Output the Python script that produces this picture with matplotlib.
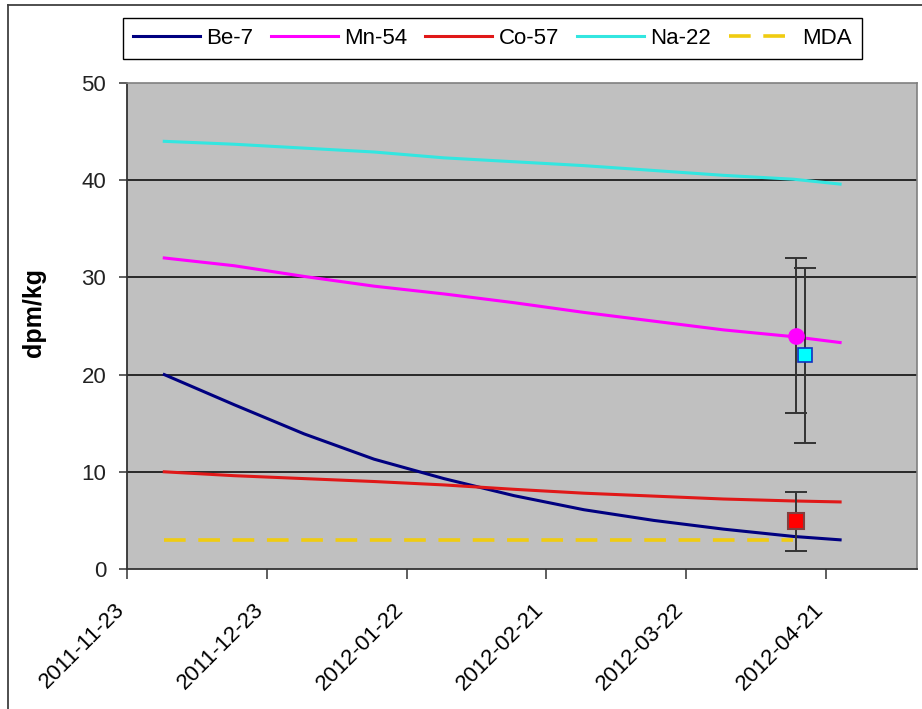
import numpy as np
import matplotlib
matplotlib.use("Agg")
import matplotlib.pyplot as plt
import matplotlib.transforms as mtransforms
from matplotlib.lines import Line2D

plt.rcParams["font.family"] = ["Liberation Sans", "DejaVu Sans"]

# ---- data ----
dates = np.array(["2011-12-01", "2011-12-16", "2011-12-31", "2012-01-15",
                  "2012-01-30", "2012-02-14", "2012-02-29", "2012-03-15",
                  "2012-03-30", "2012-04-14", "2012-04-24"], dtype="datetime64[D]")
be7 = [20.0, 16.9, 13.9, 11.3, 9.3, 7.55, 6.1, 5.0, 4.1, 3.35, 3.0]
mn54 = [32.0, 31.2, 30.1, 29.1, 28.3, 27.4, 26.4, 25.5, 24.6, 23.9, 23.3]
co57 = [10.0, 9.6, 9.3, 9.0, 8.65, 8.2, 7.8, 7.5, 7.2, 7.0, 6.9]
na22 = [44.0, 43.7, 43.3, 42.9, 42.3, 41.9, 41.5, 41.0, 40.5, 40.1, 39.6]

mda_dates = np.array(["2011-12-01", "2012-04-14"], dtype="datetime64[D]")
mda = [3.0, 3.0]

# measured values with error bars (Mn-54, Na-22, Co-57)
meas_dates = np.array(["2012-04-14T12", "2012-04-16T12", "2012-04-14T12"],
                      dtype="datetime64[h]")
meas_vals = [24.0, 22.0, 4.9]
meas_err = [8.0, 9.0, 3.0]

tick_dates = np.array(["2011-11-23", "2011-12-23", "2012-01-22", "2012-02-21",
                       "2012-03-22", "2012-04-21"], dtype="datetime64[D]")
y_ticks = [0, 10, 20, 30, 40, 50]

# ---- figure ----
W, H = 922, 709
fig = plt.figure(figsize=(W / 100, H / 100), dpi=100)
ax = fig.add_axes([127 / W, 1 - 569 / H, (917 - 127) / W, (569 - 83) / H])
ax.set_facecolor("#C0C0C0")

for y in y_ticks[1:-1]:
    ax.axhline(y, color="black", lw=1.1, zorder=1)

ax.plot(dates, be7, color="#000080", lw=2.2, label="Be-7", zorder=3)
ax.plot(dates, mn54, color="#FF00FF", lw=2.2, label="Mn-54", zorder=3)
ax.plot(dates, co57, color="#E01818", lw=2.2, label="Co-57", zorder=3)
ax.plot(dates, na22, color="#33E6E0", lw=2.2, label="Na-22", zorder=3)
ax.plot(mda_dates, mda, color="#F0CC10", lw=2.6, dashes=(6, 3.5),
        dash_capstyle="butt", label="MDA", zorder=2)

ax.errorbar(meas_dates, meas_vals, yerr=meas_err, fmt="none", ecolor="#333333",
            elinewidth=1.4, capsize=8, capthick=1.4, zorder=4)
ax.plot(meas_dates[0], meas_vals[0], "o", ms=11, mfc="#FF00FF", mec="#FF00FF", zorder=5)
ax.plot(meas_dates[1], meas_vals[1], "s", ms=10, mfc="#00FFFF", mec="#1030C0",
        mew=1.2, zorder=5)
ax.plot(meas_dates[2], meas_vals[2], "s", ms=11, mfc="#FF0000", mec="#804040",
        mew=1.5, zorder=5)

ax.set_ylim(0, 50)
ax.set_yticks(y_ticks)
ax.set_xlim(np.datetime64("2011-11-23"), np.datetime64("2012-05-10T12"))
ax.set_xticks(tick_dates)
ax.set_xticklabels([str(d) for d in tick_dates], rotation=45, ha="right",
                   va="center", rotation_mode="anchor")
ax.tick_params(axis="y", direction="out", length=6, width=1.1, color="#333333",
               labelsize=16, pad=9, labelcolor="#222222")
ax.tick_params(axis="x", direction="out", length=7, width=1.1, color="#333333",
               labelsize=16, pad=20)
shift = mtransforms.ScaledTranslation(-0.06, 0, fig.dpi_scale_trans)
for lab in ax.get_xticklabels():
    lab.set_transform(lab.get_transform() + shift)

for side in ["top", "right"]:
    ax.spines[side].set_color("#808080")
    ax.spines[side].set_linewidth(1.2)
for side in ["left", "bottom"]:
    ax.spines[side].set_color("#333333")
    ax.spines[side].set_linewidth(1.3)

ax.set_ylabel("dpm/kg", fontsize=18, fontweight="bold")
ax.yaxis.set_label_coords(-0.102, 0.527)

leg = fig.legend(loc="upper left", bbox_to_anchor=(123 / W, 1 - 18 / H),
                 ncol=5, fontsize=16, frameon=True, fancybox=False,
                 edgecolor="black", framealpha=1, borderaxespad=0,
                 handlelength=3.0, handletextpad=0.3, columnspacing=0.8,
                 borderpad=0.45)
leg.get_frame().set_linewidth(1.0)

# outer chart border
fig.add_artist(Line2D([8 / W, 8 / W], [0, 1 - 5 / H], transform=fig.transFigure,
                      color="#404040", lw=1.3))
fig.add_artist(Line2D([8 / W, 1], [1 - 5 / H, 1 - 5 / H], transform=fig.transFigure,
                      color="#404040", lw=1.3))

fig.savefig("out.png", dpi=100)
